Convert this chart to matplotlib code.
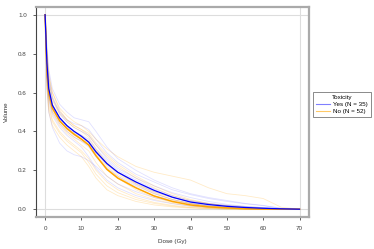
import numpy as np
import matplotlib
matplotlib.use("Agg")
import matplotlib.pyplot as plt
from matplotlib.lines import Line2D

plt.rcParams['font.family'] = ['Liberation Sans', 'DejaVu Sans']

# dose grid (Gy) the curves were read on
dose = [0, 0.5, 1, 2, 4, 6, 8, 10, 12, 14, 17, 20, 25, 30, 35, 40, 45, 50, 55, 60, 65, 70]

# mean curves
yes_mean = [1.0, 0.75, 0.62, 0.535, 0.47, 0.43, 0.40, 0.375, 0.345, 0.295, 0.235, 0.19,
            0.14, 0.097, 0.062, 0.037, 0.024, 0.015, 0.009, 0.005, 0.002, 0.0]
no_mean = [1.0, 0.72, 0.60, 0.52, 0.455, 0.415, 0.385, 0.36, 0.33, 0.275, 0.205, 0.16,
           0.11, 0.068, 0.04, 0.022, 0.012, 0.007, 0.003, 0.001, 0.0, 0.0]

# individual patients (a readable subset)
yes_curves = [
    [1.0, 0.85, 0.72, 0.62, 0.54, 0.50, 0.47, 0.46, 0.45, 0.40, 0.32, 0.26, 0.20, 0.15, 0.11, 0.08, 0.06, 0.045, 0.03, 0.02, 0.005, 0],
    [1.0, 0.62, 0.50, 0.42, 0.34, 0.30, 0.28, 0.27, 0.25, 0.22, 0.17, 0.13, 0.09, 0.06, 0.04, 0.025, 0.015, 0.01, 0.005, 0.002, 0, 0],
    [1.0, 0.78, 0.66, 0.57, 0.49, 0.45, 0.42, 0.40, 0.38, 0.33, 0.26, 0.21, 0.16, 0.12, 0.085, 0.06, 0.04, 0.025, 0.015, 0.008, 0.003, 0],
    [1.0, 0.70, 0.58, 0.50, 0.44, 0.40, 0.37, 0.35, 0.32, 0.27, 0.21, 0.17, 0.12, 0.08, 0.05, 0.03, 0.018, 0.01, 0.005, 0.002, 0, 0],
    [1.0, 0.80, 0.68, 0.58, 0.50, 0.46, 0.44, 0.43, 0.41, 0.36, 0.29, 0.24, 0.18, 0.14, 0.10, 0.075, 0.055, 0.04, 0.028, 0.018, 0.004, 0],
    [1.0, 0.68, 0.56, 0.48, 0.42, 0.38, 0.35, 0.32, 0.27, 0.21, 0.15, 0.11, 0.07, 0.045, 0.028, 0.016, 0.009, 0.005, 0.002, 0, 0, 0],
    [1.0, 0.74, 0.62, 0.54, 0.47, 0.43, 0.40, 0.38, 0.36, 0.31, 0.25, 0.20, 0.15, 0.105, 0.07, 0.045, 0.03, 0.02, 0.012, 0.006, 0.002, 0],
    [1.0, 0.72, 0.60, 0.52, 0.46, 0.42, 0.39, 0.36, 0.33, 0.29, 0.23, 0.19, 0.13, 0.09, 0.06, 0.04, 0.028, 0.02, 0.014, 0.008, 0.003, 0],
]
no_curves = [
    [1.0, 0.80, 0.68, 0.60, 0.52, 0.48, 0.45, 0.43, 0.40, 0.36, 0.31, 0.27, 0.22, 0.19, 0.17, 0.15, 0.11, 0.08, 0.07, 0.055, 0.01, 0],
    [1.0, 0.66, 0.54, 0.46, 0.40, 0.36, 0.33, 0.30, 0.26, 0.20, 0.14, 0.10, 0.06, 0.035, 0.02, 0.01, 0.005, 0.002, 0, 0, 0, 0],
    [1.0, 0.76, 0.64, 0.56, 0.49, 0.45, 0.42, 0.40, 0.37, 0.31, 0.24, 0.19, 0.13, 0.085, 0.05, 0.03, 0.018, 0.01, 0.005, 0.002, 0, 0],
    [1.0, 0.70, 0.58, 0.50, 0.44, 0.40, 0.37, 0.35, 0.33, 0.28, 0.21, 0.16, 0.10, 0.06, 0.035, 0.018, 0.01, 0.005, 0.002, 0, 0, 0],
    [1.0, 0.64, 0.52, 0.45, 0.39, 0.35, 0.32, 0.29, 0.24, 0.18, 0.12, 0.085, 0.05, 0.03, 0.016, 0.008, 0.004, 0.001, 0, 0, 0, 0],
    [1.0, 0.74, 0.62, 0.54, 0.47, 0.43, 0.40, 0.38, 0.35, 0.30, 0.23, 0.18, 0.125, 0.08, 0.05, 0.03, 0.015, 0.008, 0.003, 0.001, 0, 0],
    [1.0, 0.82, 0.70, 0.60, 0.51, 0.46, 0.43, 0.41, 0.38, 0.33, 0.27, 0.22, 0.16, 0.11, 0.07, 0.045, 0.028, 0.016, 0.008, 0.003, 0, 0],
    [1.0, 0.68, 0.57, 0.49, 0.43, 0.39, 0.36, 0.33, 0.30, 0.24, 0.17, 0.13, 0.08, 0.05, 0.03, 0.016, 0.008, 0.004, 0.001, 0, 0, 0],
    [1.0, 0.72, 0.60, 0.52, 0.45, 0.41, 0.38, 0.36, 0.34, 0.29, 0.22, 0.17, 0.11, 0.07, 0.045, 0.028, 0.016, 0.009, 0.004, 0.001, 0, 0],
    [1.0, 0.62, 0.50, 0.43, 0.37, 0.33, 0.30, 0.27, 0.22, 0.16, 0.10, 0.07, 0.04, 0.022, 0.012, 0.006, 0.003, 0.001, 0, 0, 0, 0],
    [1.0, 0.78, 0.66, 0.57, 0.50, 0.46, 0.43, 0.41, 0.39, 0.34, 0.28, 0.23, 0.17, 0.12, 0.08, 0.05, 0.03, 0.018, 0.01, 0.004, 0, 0],
    [1.0, 0.70, 0.59, 0.51, 0.45, 0.42, 0.39, 0.37, 0.345, 0.30, 0.235, 0.19, 0.135, 0.09, 0.06, 0.04, 0.025, 0.015, 0.008, 0.003, 0, 0],
]

legend_labels = ["Yes (N = 35)", "No (N = 52)"]
xticks = [0, 10, 20, 30, 40, 50, 60, 70]
yticks = [0.0, 0.2, 0.4, 0.6, 0.8, 1.0]

fig = plt.figure(figsize=(3.74, 2.49), dpi=100)
ax = fig.add_axes([0.0963, 0.1285, 0.7299, 0.8435])

for v in [0, 1]:
    ax.axhline(v, color="#dddddd", lw=0.8, zorder=0)
for v in [0, 70]:
    ax.axvline(v, color="#dddddd", lw=0.8, zorder=0)

for c in no_curves:
    ax.plot(dose, c, color="orange", alpha=0.22, lw=0.6)
for c in yes_curves:
    ax.plot(dose, c, color="blue", alpha=0.12, lw=0.6)

ax.plot(dose, no_mean, color="orange", lw=1.1)
ax.plot(dose, yes_mean, color="blue", lw=0.9)

ax.set_xlim(-2.5, 72.6)
ax.set_ylim(-0.04, 1.04)
ax.set_xticks(xticks)
ax.set_yticks(yticks)
ax.set_xticklabels([str(t) for t in xticks])
ax.set_yticklabels(["%.1f" % t for t in yticks])
ax.tick_params(labelsize=4.5, length=2.5, width=0.6, colors="#444444", pad=4)
ax.set_xlabel("Dose (Gy)", fontsize=4.5, color="#333333", labelpad=6)
ax.set_ylabel("Volume", fontsize=4.5, color="#333333", labelpad=7)

ax.spines["left"].set_color("#444444")
ax.spines["left"].set_linewidth(0.8)
for s in ["top", "right", "bottom"]:
    ax.spines[s].set_color("#aaaaaa")
    ax.spines[s].set_linewidth(1.6)

handles = [Line2D([], [], color="blue", alpha=0.5, lw=0.8),
           Line2D([], [], color="orange", alpha=0.6, lw=0.8)]
leg = fig.legend(handles, legend_labels, title="Toxicity", loc="center left",
                 bbox_to_anchor=(0.837, 0.58), fontsize=4.5, title_fontsize=4.5,
                 frameon=True, fancybox=False, handlelength=2.2, handletextpad=0.6,
                 borderpad=0.45, labelspacing=0.25, borderaxespad=0)
leg.get_frame().set_edgecolor("#555555")
leg.get_frame().set_linewidth(0.6)

fig.savefig("out.png", dpi=100)
